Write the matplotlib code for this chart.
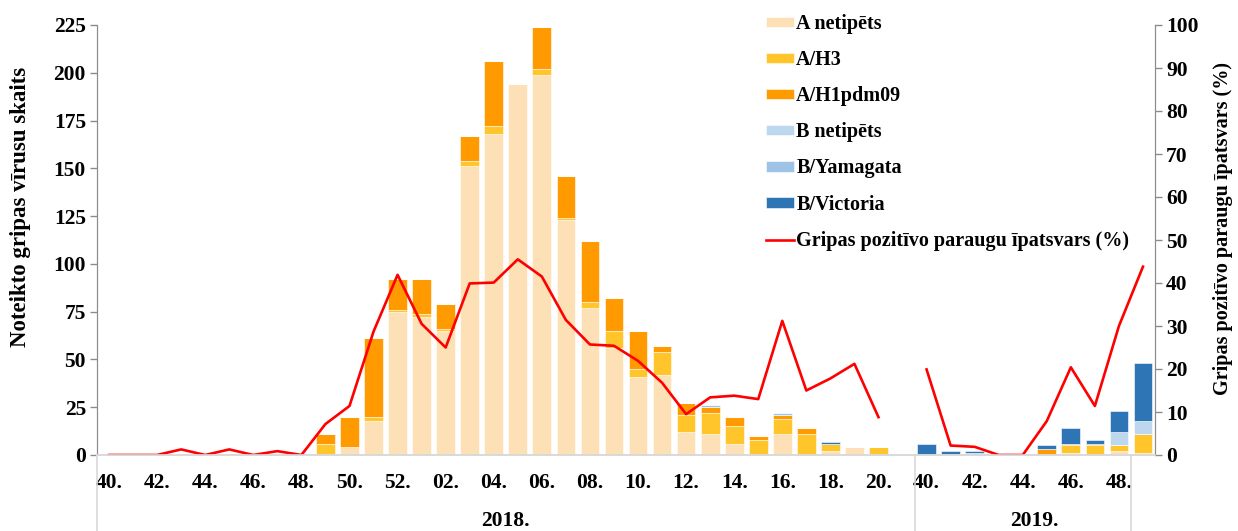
import numpy as np
import matplotlib
matplotlib.use("Agg")
from matplotlib import pyplot as plt
from matplotlib.lines import Line2D

plt.rcParams['font.family'] = ['Liberation Serif', 'DejaVu Serif']
plt.rcParams['font.weight'] = 'bold'

# colors
C_ANET = "#fde0b6"
C_H3 = "#ffc52a"
C_H1 = "#ff9a00"
C_BNET = "#bdd7ee"
C_YAM = "#9dc3e6"
C_VIC = "#2e75b6"
LINE = "#ff0000"
GRID_GRAY = "#d9d9d9"
AXIS_GRAY = "#8c8c8c"

# categories: season 2017/18 weeks 40..52, 01..20, an empty slot, then weeks 40..49 of 2019
weeks = ['40', '41', '42', '43', '44', '45', '46', '47', '48', '49', '50', '51', '52',
         '01', '02', '03', '04', '05', '06', '07', '08', '09', '10', '11', '12', '13',
         '14', '15', '16', '17', '18', '19', '20',
         '',
         '40', '41', '42', '43', '44', '45', '46', '47', '48', '49']
labelled = ['40', '42', '44', '46', '48', '50', '52', '02', '04', '06', '08', '10', '12',
            '14', '16', '18', '20']
labelled_2019 = ['40', '42', '44', '46', '48']

a_netipets = [0, 0, 0, 0, 0, 0, 0, 0, 0, 0, 4, 18, 75,
              72, 65, 151, 168, 194, 199, 123, 77, 56, 41, 42, 12, 11,
              6, 0, 11, 0, 2, 4, 0,
              0,
              0, 0, 0, 0, 0, 0, 1, 0, 2, 1]
a_h3 = [0, 0, 0, 0, 0, 1, 0, 0, 0, 6, 0, 2, 1,
        2, 1, 3, 4, 0, 3, 1, 3, 9, 4, 12, 9, 11,
        9, 8, 8, 11, 4, 0, 4,
        0,
        0, 0, 1, 0, 0, 0, 4, 5, 3, 10]
a_h1pdm09 = [0, 0, 0, 0, 0, 0, 0, 0, 0, 5, 16, 41, 16,
             18, 13, 13, 34, 0, 22, 22, 32, 17, 20, 3, 6, 3,
             5, 2, 2, 3, 0, 0, 0,
             0,
             0, 0, 0, 0, 0, 3, 1, 1, 0, 0]
b_netipets = [0] * 33 + [0] + [0, 0, 0, 0, 0, 0, 0, 0, 7, 7]
b_yamagata = [0, 0, 0, 0, 0, 0, 0, 0, 0, 0, 0, 0, 0,
              0, 0, 0, 0, 0, 0, 0, 0, 0, 0, 0, 0, 1,
              0, 0, 1, 0, 0, 0, 0,
              0,
              0, 0, 0, 0, 0, 0, 0, 0, 0, 0]
b_victoria = [0, 0, 0, 0, 0, 0, 0, 0, 0, 0, 0, 0, 0,
              0, 0, 0, 0, 0, 0, 0, 0, 0, 0, 0, 0, 0,
              0, 0, 0, 0, 1, 0, 0,
              0,
              6, 2, 1, 0, 0, 2, 8, 2, 11, 30]
positive_pct = [0, 0, 0, 1.3, 0, 1.3, 0, 0.9, 0, 7.2, 11.4, 28.7, 41.9,
                30.5, 25.0, 39.9, 40.1, 45.5, 41.5, 31.4, 25.7, 25.4, 21.9, 16.8, 9.5, 13.4,
                13.8, 13.0, 31.2, 15.0, 17.8, 21.2, 8.8,
                np.nan,
                19.9, 2.2, 1.9, 0, 0, 7.9, 20.4, 11.4, 30.0, 43.8]

series = [("A netipēts", a_netipets, C_ANET),
          ("A/H3", a_h3, C_H3),
          ("A/H1pdm09", a_h1pdm09, C_H1),
          ("B netipēts", b_netipets, C_BNET),
          ("B/Yamagata", b_yamagata, C_YAM),
          ("B/Victoria", b_victoria, C_VIC)]

W, H = 1238, 531
fig = plt.figure(figsize=(W / 100, H / 100), dpi=100)
ax = fig.add_axes([97 / W, 76 / H, 1058 / W, 430 / H])
ax2 = ax.twinx()

x = np.arange(len(weeks))
bottom = np.zeros(len(weeks))
for name, vals, col in series:
    vals = np.array(vals, dtype=float)
    ax.bar(x, vals, bottom=bottom, width=0.78, color=col, label=name,
           edgecolor='white', linewidth=0.4)
    bottom += vals

ax2.plot(x, positive_pct, color=LINE, linewidth=1.9,
         label="Gripas pozitīvo paraugu īpatsvars (%)")

tick_fs = 15.5
legend_fs = 14.5
ax.set_xlim(-0.5, len(weeks) - 0.5)
ax.set_ylim(0, 225)
ax.set_yticks(np.arange(0, 226, 25))
ax2.set_ylim(0, 100)
ax2.set_yticks(np.arange(0, 101, 10))

# x tick labels: every second week, by season
tick_pos = [i for i in range(33) if weeks[i] in labelled and i % 2 == 0]
tick_pos += [i for i in range(34, len(weeks)) if weeks[i] in labelled_2019]
ax.set_xticks(tick_pos)
ax.set_xticklabels([weeks[i] + '.' for i in tick_pos], fontsize=tick_fs, fontweight='bold')
ax.tick_params(axis='x', length=0, pad=13)
ax.tick_params(axis='y', labelsize=tick_fs, colors=AXIS_GRAY, length=5, width=1, pad=3)
ax2.tick_params(axis='y', labelsize=tick_fs, colors=AXIS_GRAY, length=5, width=1, pad=3)
for lab in ax.get_yticklabels() + ax2.get_yticklabels():
    lab.set_color('black')
    lab.set_fontweight('bold')

for a in (ax, ax2):
    a.spines['top'].set_visible(False)
    a.spines['left'].set_color(AXIS_GRAY)
    a.spines['right'].set_color(AXIS_GRAY)
    a.spines['bottom'].set_color(GRID_GRAY)
    a.spines['bottom'].set_linewidth(1.2)

ax.set_ylabel('Noteikto gripas vīrusu skaits', fontsize=16.5, fontweight='bold')
ax2.set_ylabel('Gripas pozitīvo paraugu īpatsvars (%)', fontsize=14.5, fontweight='bold')
ax.yaxis.set_label_coords(-0.062, 0.577)
ax2.yaxis.set_label_coords(1.055, 0.526)

# group separators under the axis and year labels
for xb in (-0.5, 33.5, 42.5):
    xf = ax.transData.transform((xb, 0))[0] / W
    fig.add_artist(Line2D([xf, xf], [0, 76 / H], color=GRID_GRAY, linewidth=1.2))
for xc, txt in ((16.5, '2018.'), (38.5, '2019.')):
    xf = ax.transData.transform((xc, 0))[0] / W
    fig.text(xf, 10 / H, txt, ha='center', va='center', fontsize=tick_fs, fontweight='bold')

h1, l1 = ax.get_legend_handles_labels()
h2, l2 = ax2.get_legend_handles_labels()
ax2.legend(h1 + h2, l1 + l2, loc='upper left', bbox_to_anchor=(758 / W, 1 - 6 / H),
           bbox_transform=fig.transFigure, frameon=False,
           prop={'weight': 'bold', 'size': legend_fs},
           handlelength=1.4, handleheight=0.42, handletextpad=0.1, labelspacing=0.80,
           borderaxespad=0)

fig.savefig('out.png', dpi=100)
